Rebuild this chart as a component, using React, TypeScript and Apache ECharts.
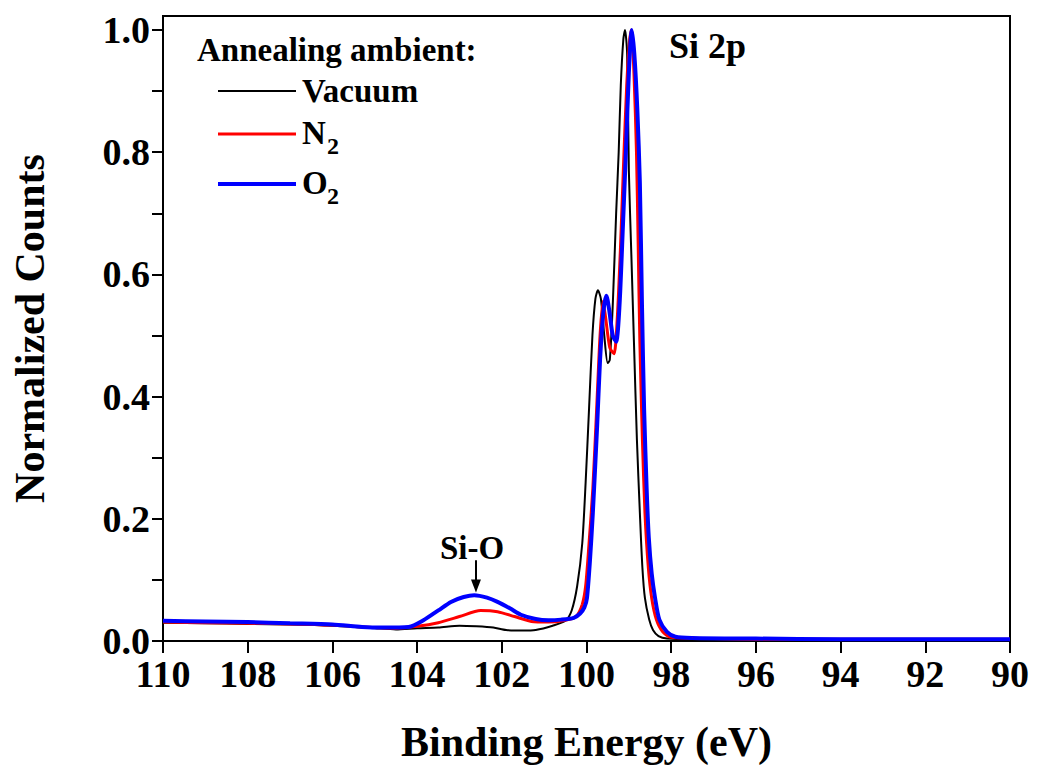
import React, { useEffect, useRef } from "react";
import * as echarts from "echarts";

// Binding energy (eV) / normalized counts
const vacuumE = [110, 109, 108, 107, 106, 105, 104.5, 104, 103.5, 103, 102.6, 102.2, 101.9, 101.5, 101.2, 100.8, 100.5, 100.35, 100.22, 100.1, 100.02, 99.94, 99.86, 99.79, 99.73, 99.66, 99.58, 99.5, 99.45, 99.38, 99.3, 99.24, 99.19, 99.13, 99.09, 99.04, 99.0, 98.94, 98.88, 98.81, 98.74, 98.68, 98.62, 98.52, 98.43, 98.3, 98.1, 97, 96, 94, 92, 90];
const vacuumY = [0.030, 0.029, 0.028, 0.027, 0.025, 0.021, 0.019, 0.021, 0.022, 0.025, 0.024, 0.022, 0.018, 0.017, 0.018, 0.025, 0.033, 0.05, 0.09, 0.16, 0.26, 0.38, 0.50, 0.56, 0.574, 0.56, 0.50, 0.455, 0.46, 0.55, 0.70, 0.80, 0.91, 0.985, 1.0, 0.96, 0.77, 0.63, 0.49, 0.33, 0.21, 0.12, 0.07, 0.035, 0.018, 0.008, 0.004, 0.002, 0.002, 0.002, 0.002, 0.002];

const n2E = [110, 109, 108, 107, 106, 105, 104.5, 104, 103.5, 103, 102.5, 102.1, 101.7, 101.3, 100.9, 100.5, 100.25, 100.1, 100.02, 99.94, 99.85, 99.76, 99.68, 99.61, 99.55, 99.45, 99.35, 99.28, 99.2, 99.12, 99.05, 98.98, 98.94, 98.88, 98.82, 98.78, 98.74, 98.68, 98.62, 98.54, 98.46, 98.35, 98.2, 98.0, 97, 96, 94, 92, 90];
const n2Y = [0.031, 0.030, 0.029, 0.028, 0.026, 0.022, 0.021, 0.024, 0.030, 0.040, 0.050, 0.048, 0.040, 0.032, 0.031, 0.034, 0.040, 0.06, 0.09, 0.16, 0.25, 0.38, 0.50, 0.556, 0.53, 0.48, 0.47, 0.52, 0.64, 0.79, 0.91, 0.985, 1.0, 0.93, 0.80, 0.65, 0.49, 0.33, 0.21, 0.12, 0.07, 0.035, 0.015, 0.006, 0.004, 0.003, 0.003, 0.003, 0.003];

const o2E = [110, 109, 108, 107, 106, 105.3, 104.8, 104.2, 103.85, 103.5, 103.2, 102.9, 102.65, 102.35, 102.1, 101.8, 101.55, 101.2, 100.9, 100.6, 100.3, 100.15, 100.05, 99.99, 99.92, 99.85, 99.75, 99.68, 99.6, 99.53, 99.46, 99.38, 99.3, 99.22, 99.14, 99.07, 99.0, 98.93, 98.87, 98.8, 98.74, 98.69, 98.64, 98.58, 98.53, 98.46, 98.38, 98.28, 98.1, 97.9, 97.5, 96, 94, 92, 90];
const o2Y = [0.033, 0.032, 0.031, 0.029, 0.027, 0.023, 0.022, 0.023, 0.034, 0.050, 0.064, 0.072, 0.075, 0.071, 0.064, 0.053, 0.043, 0.036, 0.034, 0.035, 0.038, 0.045, 0.055, 0.07, 0.13, 0.21, 0.35, 0.46, 0.54, 0.565, 0.54, 0.50, 0.49, 0.55, 0.68, 0.80, 0.93, 1.0, 0.96, 0.87, 0.75, 0.55, 0.38, 0.25, 0.17, 0.11, 0.07, 0.035, 0.015, 0.007, 0.005, 0.004, 0.003, 0.003, 0.003];

const xTickValues = [110, 108, 106, 104, 102, 100, 98, 96, 94, 92, 90];
const yLabelValues = [0, 0.2, 0.4, 0.6, 0.8, 1.0];
const yTickValues = [0, 0.1, 0.2, 0.3, 0.4, 0.5, 0.6, 0.7, 0.8, 0.9, 1.0];

const seriesNames = ["Vacuum", "N2", "O2"];
const seriesColors = ["#000000", "#ff0000", "#0000ff"];
const seriesWidths = [2, 3, 4];

// Si-O arrow (energy, top value, tip value)
const arrowE = 102.61;
const arrowFrom = 0.132;
const arrowTo = 0.09;

const FONT = "Liberation Serif";

function pairs(xs: number[], ys: number[]) {
  return xs.map((x, i) => [x, ys[i]]);
}

export default function App() {
  const ref = useRef<HTMLDivElement>(null);
  useEffect(() => {
    document.body.style.margin = "0";
    if (!ref.current) return;
    const chart = echarts.init(ref.current, null, { renderer: "svg" });
    const dataSets = [pairs(vacuumE, vacuumY), pairs(n2E, n2Y), pairs(o2E, o2Y)];
    const textBase = { fontFamily: FONT, fontWeight: "bold" as const, fill: "#000" };
    chart.setOption({
      animation: false,
      backgroundColor: "#ffffff",
      grid: {
        left: 163,
        right: 27,
        top: 16,
        bottom: 135,
        show: true,
        borderColor: "#000",
        borderWidth: 2,
        backgroundColor: "transparent",
      },
      xAxis: {
        type: "value",
        inverse: true,
        min: 90,
        max: 110,
        interval: 2,
        name: "Binding Energy (eV)",
        nameLocation: "middle",
        nameGap: 80,
        nameTextStyle: { fontFamily: FONT, fontWeight: "bold", fontSize: 42, color: "#000" },
        axisLine: { show: true, lineStyle: { color: "#000", width: 2 } },
        axisTick: { show: true, length: 12, lineStyle: { color: "#000", width: 2 }, customValues: xTickValues },
        axisLabel: {
          fontFamily: FONT,
          fontWeight: "bold",
          fontSize: 38,
          color: "#000",
          margin: 14,
          customValues: xTickValues,
        },
        splitLine: { show: false },
      },
      yAxis: {
        type: "value",
        min: 0,
        max: 1.023,
        name: "Normalized Counts",
        nameLocation: "middle",
        nameGap: 112,
        nameRotate: 90,
        nameTextStyle: { fontFamily: FONT, fontWeight: "bold", fontSize: 42, color: "#000" },
        axisLine: { show: true, lineStyle: { color: "#000", width: 2 } },
        axisTick: { show: true, length: 11, lineStyle: { color: "#000", width: 2 }, customValues: yTickValues },
        axisLabel: {
          fontFamily: FONT,
          fontWeight: "bold",
          fontSize: 38,
          color: "#000",
          margin: 13,
          customValues: yLabelValues,
          formatter: (v: number) => v.toFixed(1),
        },
        splitLine: { show: false },
      },
      series: seriesNames.map((name, i) => ({
        name,
        type: "line",
        data: dataSets[i],
        showSymbol: false,
        symbol: "none",
        smooth: 0.25,
        lineStyle: { color: seriesColors[i], width: seriesWidths[i] },
        z: 2 + i,
        markLine:
          i === 2
            ? {
                silent: true,
                symbol: ["none", "triangle"],
                symbolSize: [10, 13],
                label: { show: false },
                lineStyle: { color: "#000", width: 2, type: "solid" },
                data: [[{ coord: [arrowE, arrowFrom] }, { coord: [arrowE, arrowTo] }]],
              }
            : undefined,
      })),
      graphic: [
        { type: "text", left: 197, top: 33, style: { ...textBase, text: "Annealing ambient:", fontSize: 33 } },
        { type: "line", shape: { x1: 218, y1: 91, x2: 296, y2: 91 }, style: { stroke: seriesColors[0], lineWidth: seriesWidths[0] } },
        { type: "text", left: 302, top: 74, style: { ...textBase, text: "Vacuum", fontSize: 33 } },
        { type: "line", shape: { x1: 218, y1: 134, x2: 296, y2: 134 }, style: { stroke: seriesColors[1], lineWidth: seriesWidths[1] } },
        { type: "text", left: 302, top: 116, style: { ...textBase, text: "N", fontSize: 33 } },
        { type: "text", left: 327, top: 134, style: { ...textBase, text: "2", fontSize: 24 } },
        { type: "line", shape: { x1: 218, y1: 184, x2: 296, y2: 184 }, style: { stroke: seriesColors[2], lineWidth: seriesWidths[2] } },
        { type: "text", left: 302, top: 166, style: { ...textBase, text: "O", fontSize: 33 } },
        { type: "text", left: 327, top: 184, style: { ...textBase, text: "2", fontSize: 24 } },
        { type: "text", left: 669, top: 28, style: { ...textBase, text: "Si 2p", fontSize: 36 } },
        { type: "text", left: 440, top: 531, style: { ...textBase, text: "Si-O", fontSize: 33 } },
      ],
    });
    return () => chart.dispose();
  }, []);
  return <div ref={ref} style={{ width: 1037, height: 776 }} />;
}
